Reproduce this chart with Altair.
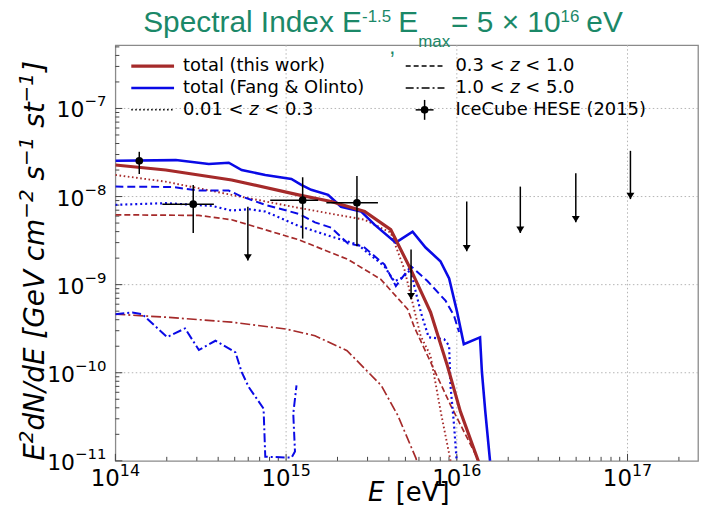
import altair as alt
import pandas as pd

# ---------------- values (log10 units) ----------------
# x: log10(E / eV) ; y: log10(E^2 dN/dE / GeV cm^-2 s^-1 st^-1)
THIS_TOTAL_LOGE = [14.000, 14.295, 14.681, 15.072, 15.264, 15.460, 15.613, 15.730, 15.846, 15.945, 16.021, 16.120, 16.149]
THIS_TOTAL_LOGF = [-7.642, -7.699, -7.812, -7.981, -8.056, -8.169, -8.376, -8.827, -9.312, -9.922, -10.441, -10.971, -11.140]

THIS_Z1_LOGE = [14.000, 14.295, 14.681, 15.072, 15.460, 15.613, 15.693, 15.788, 15.846, 15.906, 15.964, 15.980]
THIS_Z1_LOGF = [-7.755, -7.831, -7.981, -8.128, -8.263, -8.410, -8.827, -9.580, -9.806, -10.445, -11.006, -11.140]

THIS_Z2_LOGE = [14.000, 14.489, 14.681, 15.072, 15.363, 15.555, 15.712, 15.751, 15.964, 16.130, 16.155]
THIS_Z2_LOGF = [-8.207, -8.214, -8.263, -8.489, -8.714, -8.940, -9.279, -9.482, -10.370, -11.006, -11.140]

THIS_Z3_LOGE = [14.000, 14.295, 14.681, 15.000, 15.169, 15.357, 15.557, 15.654, 15.761, 15.782]
THIS_Z3_LOGF = [-9.335, -9.369, -9.426, -9.504, -9.580, -9.749, -10.144, -10.483, -10.972, -11.140]

FO_TOTAL_LOGE = [14.000, 14.354, 14.547, 14.664, 14.740, 14.878, 15.031, 15.089, 15.147, 15.246, 15.322, 15.439,
                 15.518, 15.642, 15.741, 15.817, 15.904, 15.955, 16.002, 16.041, 16.136, 16.147, 16.167, 16.196]
FO_TOTAL_LOGF = [-7.594, -7.586, -7.631, -7.616, -7.699, -7.755, -7.800, -7.868, -7.924, -7.981, -8.116, -8.169,
                 -8.319, -8.523, -8.399, -8.579, -8.734, -8.929, -9.313, -9.675, -9.599, -9.991, -10.443, -11.030]

FO_Z1_LOGE = [14.000, 14.295, 14.565, 14.681, 14.780, 14.878, 15.072, 15.264, 15.421, 15.576, 15.634, 15.683,
              15.731, 15.751, 15.790, 15.835, 15.926, 15.955, 15.963, 15.984, 15.999, 16.006]
FO_Z1_LOGF = [-8.094, -8.075, -8.106, -8.159, -8.143, -8.170, -8.332, -8.453, -8.547, -8.792, -8.963, -8.918,
              -8.828, -9.017, -9.318, -9.597, -9.619, -9.695, -10.147, -10.598, -10.997, -11.140]

FO_Z2_LOGE = [14.000, 14.332, 14.489, 14.664, 14.740, 14.878, 15.072, 15.169, 15.264, 15.363, 15.450, 15.576,
              15.643, 15.731, 15.828, 15.935, 15.984, 16.013]
FO_Z2_LOGF = [-7.887, -7.891, -7.932, -7.932, -8.000, -8.094, -8.195, -8.293, -8.353, -8.534, -8.564, -8.771,
              -9.016, -8.790, -8.959, -9.185, -9.354, -9.538]

FO_Z3_LOGE = [14.000, 14.099, 14.157, 14.303, 14.408, 14.489, 14.586, 14.703, 14.740, 14.780, 14.868, 14.878,
              15.032, 15.052, 15.042, 15.061]
FO_Z3_LOGF = [-9.335, -9.316, -9.335, -9.595, -9.497, -9.742, -9.637, -9.768, -9.993, -10.159, -10.407, -10.953,
              -10.964, -10.893, -10.464, -10.144]

# IceCube HESE (2015) points with error bars
HESE_LOGE = [14.140, 14.456, 15.097, 15.415]
HESE_LOGF = [-7.594, -8.086, -8.041, -8.071]
HESE_LOGF_LO = [-7.744, -8.413, -8.477, -8.564]
HESE_LOGF_HI = [-7.492, -7.868, -7.781, -7.766]
HESE_BIN_LOGE_LO = [float("nan"), 14.275, 14.907, 15.236]
HESE_BIN_LOGE_HI = [float("nan"), 14.577, 15.188, 15.538]
# IceCube upper limits (value and arrow tip)
UL_LOGE = [14.776, 15.732, 16.058, 16.372, 16.697, 17.017]
UL_LOGF = [-8.116, -8.602, -8.056, -7.887, -7.736, -7.481]
UL_TIP_LOGF = [-8.726, -9.166, -8.621, -8.413, -8.293, -8.029]

X_TICK_EXP = [14, 15, 16, 17]
Y_TICK_EXP = [-7, -8, -9, -10, -11]

LEGEND_LEFT = ["total (this work)", "total (Fang & Olinto)", "0.01 < z < 0.3"]
LEGEND_RIGHT = ["0.3 < z < 1.0", "1.0 < z < 5.0", "IceCube HESE (2015)"]

# ---------------- layout / style ----------------
W, H = 586, 418
X_LO, X_HI = 14.0, 14.0 + W / 171.7
Y_LO, Y_HI = -11.0, -11.0 + H / 88.6
XS = alt.Scale(type="log", domain=[10 ** X_LO, 10 ** X_HI], nice=False)
YS = alt.Scale(type="log", domain=[10 ** Y_LO, 10 ** Y_HI], nice=False)
RED, BLUE = "#a52a2a", "#0a0ae6"
GREEN = "#1b8868"
TICKFONT = "DejaVu Sans"
ONE = pd.DataFrame({"k": [0]})

DEJAVU = {**{d: 0.636 for d in "0123456789"}, " ": 0.318, ".": 0.318, "<": 0.838, "z": 0.525, "E": 0.632,
          "d": 0.635, "N": 0.748, "/": 0.337, "[": 0.390, "]": 0.390, "G": 0.775, "e": 0.615, "V": 0.684,
          "c": 0.550, "m": 0.974, "s": 0.521, "t": 0.392, "\u2212": 0.838}
ARIAL = {"S": .667, "p": .556, "e": .556, "c": .5, "t": .278, "r": .333, "a": .556, "l": .222, " ": .278,
         "I": .278, "n": .556, "d": .556, "x": .5, "E": .667, "-": .333, "1": .556, ".": .278, "5": .556,
         ",": .278, "m": .833, "=": .584, "\u00d7": .584, "0": .556, "6": .556, "V": .667}


def tw(s, size, table):
    return sum(table.get(ch, 0.6) for ch in s) * size


def text_at(s, x, y, size, font, color="black", italic=False, align="left", angle=None, baseline="alphabetic"):
    kw = dict(text=s, align=align, baseline=baseline, fontSize=size, font=font, color=color)
    if italic:
        kw["fontStyle"] = "italic"
    if angle is not None:
        kw["angle"] = angle
    return alt.Chart(ONE).mark_text(**kw).encode(x=alt.value(x), y=alt.value(y))


def curve(loge, logf, color, width, dash=None):
    df = pd.DataFrame({"i": range(len(loge)), "E": [10 ** v for v in loge], "F": [10 ** v for v in logf]})
    kw = dict(color=color, strokeWidth=width, clip=True)
    if dash:
        kw["strokeDash"] = dash
    return alt.Chart(df).mark_line(**kw).encode(
        x=alt.X("E:Q", scale=XS, axis=None), y=alt.Y("F:Q", scale=YS, axis=None), order=alt.Order("i:Q"))


layers = []

# grid
gx = pd.DataFrame({"E": [1e15, 1e16, 1e17]})
gy = pd.DataFrame({"F": [1e-10, 1e-9, 1e-8, 1e-7]})
layers.append(alt.Chart(gx).mark_rule(color="#b4b4b4", strokeWidth=1, strokeDash=[1.5, 2.5]).encode(
    x=alt.X("E:Q", scale=XS, axis=None)))
layers.append(alt.Chart(gy).mark_rule(color="#b4b4b4", strokeWidth=1, strokeDash=[1.5, 2.5]).encode(
    y=alt.Y("F:Q", scale=YS, axis=None)))

# inward ticks
xmaj = [10.0 ** e for e in X_TICK_EXP]
xmin = [k * 10.0 ** n for n in range(14, 18) for k in range(2, 10) if k * 10.0 ** n <= 10 ** X_HI]
ymaj = [10.0 ** e for e in Y_TICK_EXP]
ymin = [k * 10.0 ** n for n in range(-11, -6) for k in range(2, 10) if k * 10.0 ** n <= 10 ** Y_HI]
for vals, ln in ((xmaj, 7), (xmin, 4)):
    layers.append(alt.Chart(pd.DataFrame({"E": vals})).mark_rule(color="#444", strokeWidth=1).encode(
        x=alt.X("E:Q", scale=XS, axis=None), y=alt.value(H), y2=alt.value(H - ln)))
for vals, ln in ((ymaj, 7), (ymin, 4)):
    layers.append(alt.Chart(pd.DataFrame({"F": vals})).mark_rule(color="#444", strokeWidth=1).encode(
        y=alt.Y("F:Q", scale=YS, axis=None), x=alt.value(0), x2=alt.value(ln)))

# model curves
layers += [
    curve(THIS_Z3_LOGE, THIS_Z3_LOGF, RED, 1.7, [10, 3, 2, 3]),
    curve(THIS_Z2_LOGE, THIS_Z2_LOGF, RED, 1.7, [6, 3]),
    curve(THIS_Z1_LOGE, THIS_Z1_LOGF, RED, 1.9, [1.6, 2.6]),
    curve(FO_Z3_LOGE, FO_Z3_LOGF, BLUE, 2.0, [9, 3, 2, 3]),
    curve(FO_Z2_LOGE, FO_Z2_LOGF, BLUE, 2.0, [8, 4]),
    curve(FO_Z1_LOGE, FO_Z1_LOGF, BLUE, 2.2, [2, 3]),
    curve(FO_TOTAL_LOGE, FO_TOTAL_LOGF, BLUE, 2.6),
    curve(THIS_TOTAL_LOGE, THIS_TOTAL_LOGF, RED, 3.2),
]

# IceCube HESE
hese = pd.DataFrame({
    "E": [10 ** v for v in HESE_LOGE], "F": [10 ** v for v in HESE_LOGF],
    "Flo": [10 ** v for v in HESE_LOGF_LO], "Fhi": [10 ** v for v in HESE_LOGF_HI],
    "Elo": [10 ** v for v in HESE_BIN_LOGE_LO], "Ehi": [10 ** v for v in HESE_BIN_LOGE_HI]})
hbins = hese.dropna()
layers.append(alt.Chart(hese).mark_rule(color="black", strokeWidth=1.5).encode(
    x=alt.X("E:Q", scale=XS, axis=None), y=alt.Y("Flo:Q", scale=YS, axis=None), y2="Fhi:Q"))
layers.append(alt.Chart(hbins).mark_rule(color="black", strokeWidth=1.5).encode(
    x=alt.X("Elo:Q", scale=XS, axis=None), x2="Ehi:Q", y=alt.Y("F:Q", scale=YS, axis=None)))
layers.append(alt.Chart(hese).mark_point(filled=True, color="black", size=60, opacity=1).encode(
    x=alt.X("E:Q", scale=XS, axis=None), y=alt.Y("F:Q", scale=YS, axis=None)))
ul = pd.DataFrame({"E": [10 ** v for v in UL_LOGE], "F": [10 ** v for v in UL_LOGF],
                   "Ft": [10 ** v for v in UL_TIP_LOGF]})
layers.append(alt.Chart(ul).mark_rule(color="black", strokeWidth=1.5).encode(
    x=alt.X("E:Q", scale=XS, axis=None), y=alt.Y("F:Q", scale=YS, axis=None), y2="Ft:Q"))
layers.append(alt.Chart(ul).mark_point(shape="M-1,-1.6L1,-1.6L0,0Z", filled=True, color="black", size=64,
                                       opacity=1).encode(
    x=alt.X("E:Q", scale=XS, axis=None), y=alt.Y("Ft:Q", scale=YS, axis=None)))

# legend (no frame)
LROWS = [21, 43, 65]
C1L, C1R, C1T = 16, 59, 68
C2L, C2R, C2T = 292, 331, 342
LFS = 18


def sample(x1, x2, y, color, width, dash=None):
    kw = dict(color=color, strokeWidth=width)
    if dash:
        kw["strokeDash"] = dash
    return alt.Chart(ONE).mark_rule(**kw).encode(x=alt.value(x1), x2=alt.value(x2), y=alt.value(y))


layers += [
    sample(C1L, C1R, LROWS[0], RED, 3.2),
    sample(C1L, C1R, LROWS[1], BLUE, 2.6),
    sample(C1L, C1R, LROWS[2], "black", 1.5, [1.5, 2.5]),
    sample(C2L, C2R, LROWS[0], "black", 1.5, [5, 3]),
    sample(C2L, C2R, LROWS[1], "black", 1.5, [8, 3, 2, 3]),
    sample(302, 320, LROWS[2], "black", 1.5),
    alt.Chart(ONE).mark_rule(color="black", strokeWidth=1.5).encode(
        x=alt.value(311), y=alt.value(LROWS[2] - 10), y2=alt.value(LROWS[2] + 10)),
    alt.Chart(ONE).mark_point(filled=True, color="black", size=60, opacity=1).encode(
        x=alt.value(311), y=alt.value(LROWS[2])),
    text_at(LEGEND_LEFT[0], C1T, LROWS[0], LFS, TICKFONT, baseline="middle"),
    text_at(LEGEND_LEFT[1], C1T, LROWS[1], LFS, TICKFONT, baseline="middle"),
    text_at(LEGEND_RIGHT[2], C2T, LROWS[2], LFS, TICKFONT, baseline="middle"),
]


def zlabel(label, x0, y):
    a, b = label.split("z")
    out, x = [], x0
    for piece, it in ((a, False), ("z", True), (b, False)):
        core = piece.strip()
        x += tw(piece[: len(piece) - len(piece.lstrip())], LFS, DEJAVU)
        out.append(text_at(core, x, y, LFS, TICKFONT, italic=it, baseline="middle"))
        x += tw(core, LFS, DEJAVU) + tw(piece[len(piece.rstrip()):], LFS, DEJAVU)
    return out


layers += zlabel(LEGEND_LEFT[2], C1T, LROWS[2])
layers += zlabel(LEGEND_RIGHT[0], C2T, LROWS[0])
layers += zlabel(LEGEND_RIGHT[1], C2T, LROWS[1])

# x tick labels  10^n
BF, EF = 23, 16
xt = pd.DataFrame({"E": xmaj, "exp": [str(e) for e in X_TICK_EXP]})
dxx = (tw("10", BF, DEJAVU) - tw("14", EF, DEJAVU)) / 2
layers.append(alt.Chart(xt).mark_text(text="10", align="right", dx=dxx, baseline="alphabetic", fontSize=BF,
                                      font=TICKFONT, color="black").encode(
    x=alt.X("E:Q", scale=XS, axis=None), y=alt.value(H + 25)))
layers.append(alt.Chart(xt).mark_text(align="left", dx=dxx, baseline="alphabetic", fontSize=EF,
                                      font=TICKFONT, color="black").encode(
    x=alt.X("E:Q", scale=XS, axis=None), y=alt.value(H + 15), text="exp:N"))

# y tick labels  10^-n
for group in ([e for e in Y_TICK_EXP if e > -10], [e for e in Y_TICK_EXP if e <= -10]):
    exps = ["\u2212" + str(-e) for e in group]
    yt = pd.DataFrame({"F": [10.0 ** e for e in group], "exp": exps})
    wexp = tw(exps[0], 15, DEJAVU)
    layers.append(alt.Chart(yt).mark_text(text="10", align="right", dx=-wexp, dy=9, baseline="alphabetic",
                                          fontSize=22, font=TICKFONT, color="black").encode(
        x=alt.value(-9), y=alt.Y("F:Q", scale=YS, axis=None)))
    layers.append(alt.Chart(yt).mark_text(align="right", dy=-2, baseline="alphabetic", fontSize=15,
                                          font=TICKFONT, color="black").encode(
        x=alt.value(-9), y=alt.Y("F:Q", scale=YS, axis=None), text="exp:N"))

# x axis title  E [eV]
layers.append(text_at("E", 254, H + 40, 26, TICKFONT, italic=True))
layers.append(text_at("[eV]", 282, H + 40, 26, TICKFONT))

# y axis title (rotated, reads upward); (text, superscript?, gap before in em)
YT_PIECES = [("E", 0, 0), ("2", 1, 0), ("dN/dE [GeV cm", 0, 0), ("\u22122", 1, 0), ("s", 0, 0.318),
             ("\u22121", 1, 0), ("st", 0, 0.318), ("\u22121", 1, 0), ("]", 0, 0.05)]
yy = 418
for s, sup, gap in YT_PIECES:
    size = 20 if sup else 28
    yy -= gap * 28
    layers.append(text_at(s, -83 if sup else -72, yy, size, TICKFONT, italic=True, angle=270))
    yy -= tw(s, size, DEJAVU)

# title: (text, font size, baseline y, gap before)
TITLE_PIECES = [("Spectral Index E", 30, -13, 0), ("-1.5", 17, -23, 0), (",", 22, 9, -2), ("E", 30, -13, 3),
                ("max", 17, 2, 0), ("= 5 \u00d7 10", 30, -13, 1), ("16", 17, -23, 0), ("eV", 30, -13, 7)]
xx = 28
for s, size, y, gap in TITLE_PIECES:
    xx += gap
    layers.append(text_at(s, xx, y, size, "Liberation Sans", color=GREEN))
    xx += tw(s, size, ARIAL)

chart = alt.layer(*layers).properties(
    width=W, height=H,
    autosize=alt.AutoSizeParams(type="none"),
    padding={"left": 108, "top": 36, "right": 4, "bottom": 47},
).configure_view(stroke="#8a8a8a", strokeWidth=1.3)

chart.save("out.html", embed_options={"renderer": "svg", "actions": False})
